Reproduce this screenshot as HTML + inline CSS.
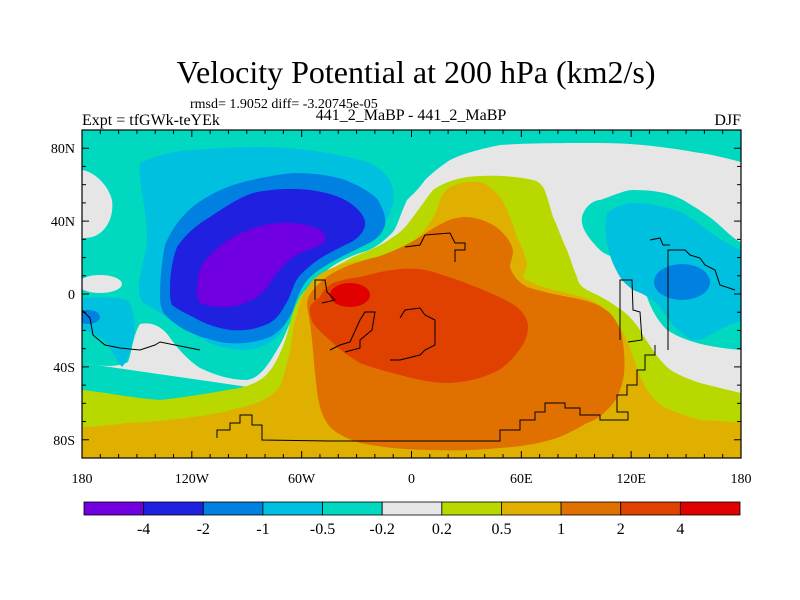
<!DOCTYPE html>
<html><head><meta charset="utf-8"><style>
body{margin:0;background:#fff;}
svg{display:block;font-family:"Liberation Serif",serif;}
</style></head><body>
<svg id="c" width="800" height="600" viewBox="0 0 800 600">
<text x="416" y="83" font-size="32" text-anchor="middle">Velocity Potential at 200 hPa (km2/s)</text>
<text x="190" y="108" font-size="14">rmsd= 1.9052 diff= -3.20745e-05</text>
<text x="82" y="125" font-size="16">Expt = tfGWk-teYEk</text>
<text x="411" y="120" font-size="16" text-anchor="middle">441_2_MaBP - 441_2_MaBP</text>
<text x="741" y="125" font-size="16" text-anchor="end">DJF</text>
<defs><clipPath id="pc"><rect x="82" y="130" width="659" height="328"/></clipPath></defs>
<g clip-path="url(#pc)">
<rect x="82" y="130" width="659" height="328" fill="#00d8c0"/>
<path fill="#e6e6e6" d="M741,458 L741,350 C720,348 690,345 667,330 C655,318 650,305 647,297 C640,280 635,268 627,263 C612,256 605,255 600,250 C590,240 580,228 582,217 C585,205 595,200 600,200 C615,195 625,190 633,190 C655,190 670,193 683,200 C700,210 710,217 717,223 C728,233 735,240 741,242 L741,162 C725,158 710,154 700,153 C660,146 630,143 600,143 C560,143 530,143 500,145 C475,150 460,155 450,160 C438,168 430,175 425,180 C418,190 412,195 407,200 C400,215 398,225 393,232 C380,245 372,250 360,253 C340,260 328,268 320,277 C310,287 305,295 300,303 C290,320 285,338 277,350 C268,365 260,378 247,380 C230,380 215,375 200,368 C185,358 175,345 168,335 C160,325 150,322 140,324 C133,335 132,352 128,362 C118,368 100,366 82,363 Z"/>
<path fill="#e6e6e6" d="M82,170 C95,172 108,185 112,200 C114,215 108,230 95,236 C90,238 85,238 82,238 Z"/>
<ellipse cx="100" cy="284" rx="22" ry="9" fill="#e6e6e6"/>
<path fill="#b8d800" d="M741,458 L741,393 C720,388 700,383 700,383 C685,378 672,372 667,367 C660,360 656,355 653,350 C648,343 644,337 640,330 C632,318 625,312 617,307 C605,298 595,294 587,290 C580,286 578,282 577,277 C572,265 570,258 567,250 C560,235 557,225 553,217 C548,200 546,192 543,187 C540,183 537,181 533,180 C510,175 485,175 467,177 C450,180 440,185 433,190 C425,200 420,208 413,217 C405,228 400,233 393,237 C380,247 365,252 353,257 C338,265 328,270 320,277 C310,285 303,292 300,297 C294,308 292,315 290,323 C287,335 284,345 280,353 C275,365 268,375 260,380 C250,386 238,389 227,390 C205,394 180,398 160,400 C130,398 105,392 82,390 L82,458 Z"/>
<path fill="#e0b000" d="M741,458 L741,423 C720,421 705,420 700,420 C685,416 670,410 663,407 C655,400 650,395 647,390 C640,378 637,368 633,357 C628,342 624,332 617,323 C610,313 603,307 597,303 C585,297 575,295 567,293 C555,290 540,287 533,283 C527,280 524,279 523,277 C524,272 527,268 527,263 C524,252 520,243 517,237 C512,222 506,205 500,197 C494,190 488,185 483,183 C470,180 460,183 450,187 C442,192 440,200 437,210 C433,220 420,240 400,250 C380,257 362,260 347,263 C330,268 320,273 313,280 C305,290 302,297 300,303 C296,315 295,322 293,330 C291,345 290,355 287,363 C284,375 282,385 277,390 C268,400 255,404 243,407 C225,412 210,415 193,417 C170,420 150,422 127,423 C110,425 95,427 82,427 L82,458 Z"/>
<path fill="#e07000" d="M443,223 C450,219 458,217 467,217 C480,218 492,223 500,230 C508,238 513,245 513,253 C512,260 510,263 510,267 C513,277 520,283 527,287 C545,293 565,296 583,300 C595,303 603,307 610,313 C618,322 622,332 623,343 C625,357 625,370 623,380 C620,393 615,403 607,410 C600,417 594,421 587,423 C575,430 562,437 550,440 C533,445 515,447 500,448 C478,450 455,451 433,450 C410,450 385,448 360,443 C345,438 333,432 327,423 C320,412 318,400 317,390 C315,375 314,362 313,350 C312,340 311,330 310,323 C309,315 307,308 307,303 C308,297 310,293 313,290 C320,282 326,277 333,273 C345,266 360,261 377,257 C392,252 407,245 420,237 C430,230 437,226 443,223 Z"/>
<path fill="#e04000" d="M320,297 C323,290 328,286 333,283 C342,280 350,278 360,277 C372,274 383,271 393,270 C405,268 420,268 433,272 C450,277 467,283 483,290 C498,296 510,302 517,307 C524,313 528,320 528,327 C528,337 523,346 517,353 C510,362 502,369 493,373 C480,379 465,382 450,383 C432,383 415,379 400,375 C386,371 372,368 360,363 C350,357 340,350 333,343 C325,336 318,330 313,323 C310,316 309,311 310,307 C312,303 316,300 320,297 Z"/>
<ellipse cx="350" cy="295" rx="20" ry="12" fill="#e00000"/>
<path fill="#00c0e0" d="M140,163 C160,154 180,150 193,150 C220,148 240,147 260,147 C285,147 305,149 327,153 C350,157 365,160 377,167 C388,175 392,182 393,190 C395,200 392,210 387,220 C380,230 372,237 360,243 C348,250 337,256 327,263 C315,271 307,280 300,290 C294,300 291,310 287,320 C284,328 281,333 277,337 C268,345 258,349 247,350 C235,350 222,348 210,343 C198,337 188,330 177,323 C165,316 155,309 143,303 C138,295 138,285 140,277 C142,265 146,252 147,240 C147,225 145,212 143,200 C141,188 139,175 140,163 Z"/>
<path fill="#00c0e0" d="M82,298 C100,297 118,297 127,300 C135,310 136,325 133,340 C130,352 127,362 122,367 C116,360 112,350 104,340 C96,334 88,331 82,330 Z"/>
<ellipse cx="88" cy="317" rx="12" ry="7" fill="#0080e0"/>
<path fill="#0080e0" d="M160,295 C160,278 162,260 165,245 C172,228 182,215 195,205 C210,194 225,187 240,183 C258,178 275,175 293,173 C312,173 330,175 345,180 C360,186 372,193 378,200 C384,210 386,218 385,225 C382,235 375,241 365,245 C352,252 340,257 330,263 C318,270 310,276 305,283 C299,292 296,301 293,310 C288,322 280,332 270,337 C255,343 240,344 225,343 C210,340 197,336 185,330 C175,324 167,318 163,312 C160,305 160,300 160,295 Z"/>
<path fill="#2020e0" d="M170,290 C170,275 172,260 177,247 C185,235 196,225 210,217 C225,207 238,198 253,193 C270,189 290,188 310,190 C325,192 340,196 350,203 C360,210 366,218 365,225 C363,235 355,241 345,245 C335,250 323,256 315,262 C305,270 298,276 295,283 C291,292 289,300 285,305 C280,315 274,322 265,325 C253,330 242,331 230,330 C217,328 205,324 195,318 C185,313 177,309 172,305 C170,300 170,295 170,290 Z"/>
<path fill="#7000e0" d="M197,290 C197,280 199,270 203,263 C212,252 222,244 233,237 C248,229 262,225 277,223 C293,222 308,224 320,230 C326,234 327,240 323,243 C316,248 308,250 300,253 C290,259 283,265 277,273 C270,283 265,292 257,297 C247,303 237,307 227,307 C215,307 206,306 200,303 C197,299 197,295 197,290 Z"/>
<path fill="#00c0e0" d="M607,213 C615,207 625,203 633,203 C650,203 668,207 683,213 C695,220 705,229 717,237 C727,243 735,248 741,250 L741,320 C738,322 736,323 733,323 C722,328 710,335 700,340 C690,341 683,335 677,330 C670,322 665,314 660,307 C652,298 643,294 633,290 C627,285 623,282 620,277 C613,265 609,255 607,243 C605,232 605,220 607,213 Z"/>
<ellipse cx="682" cy="282" rx="28" ry="18" fill="#0080e0"/>
<g fill="none" stroke="#000" stroke-width="1">
<path d="M217,438 L217,430 L230,430 L230,423 L240,423 L240,415 L252,415 L252,425 L262,425 L262,440 L330,441 L500,441 L500,430 L520,430 L520,420 L535,420 L535,412 L545,412 L545,403 L565,403 L565,408 L580,408 L580,415 L600,415 L600,420 L628,420 L628,412 L617,412 L617,395 L627,395 L627,385 L637,385 L637,370 L645,370 L645,355 L655,355 L655,345"/>
<path d="M405,247 L420,245 L425,235 L450,233 L455,243 L465,243 L465,250 L455,250 L455,262"/>
<path d="M400,318 L405,310 L420,308 L425,315 L435,320 L435,345 L425,350 L420,355 L400,360 L390,360"/>
<path d="M330,350 L340,345 L350,342 L360,320 L365,312 L375,312 L372,330 L360,340 L360,348 L345,352"/>
<path d="M315,300 L315,280 L325,280 L327,292 L335,300 L322,303"/>
<path d="M82,310 L90,318 L93,335 L105,345 L120,348 L140,350 L155,345 L160,342 L175,345 L200,350"/>
<path d="M620,340 L620,280 L632,280 L633,310 L640,312 L642,340 L628,342"/>
<path d="M668,350 L668,250 L685,250 L690,255 L700,258 L705,265 L715,270 L720,285 L735,290"/>
<path d="M650,240 L660,238 L663,245 L670,245"/>
</g>
</g>
<rect x="82" y="130" width="659" height="328" fill="none" stroke="#000" stroke-width="1.2"/>
<g id="axes"></g>
<g id="cbar"></g>
</svg>
<script>
const levels = ["-4","-2","-1","-0.5","-0.2","0.2","0.5","1","2","4"];
const colors = ["#7000e0","#2020e0","#0080e0","#00c0e0","#00d8c0","#e6e6e6","#b8d800","#e0b000","#e07000","#e04000","#e00000"];
const lonTicks = ["180","120W","60W","0","60E","120E","180"];
const lonVals = [-180,-120,-60,0,60,120,180];
const latTicks = ["80N","40N","0","40S","80S"];
const latVals = [80,40,0,-40,-80];
const NS="http://www.w3.org/2000/svg";
const X0=82,X1=741,Y0=130,Y1=458;
const xs=l=>X0+(l+180)/360*(X1-X0);
const ys=l=>Y0+(90-l)/180*(Y1-Y0);
function mk(t,a){const e=document.createElementNS(NS,t);for(const k in a)e.setAttribute(k,a[k]);return e;}
const ax=document.getElementById('axes');
for(let l=-180;l<=180;l+=10){const maj=lonVals.includes(l);const x=xs(l);
 const t1=mk('line',{x1:x,x2:x,y1:Y1,y2:Y1-(maj?7:4),stroke:'#000'});
 
 ax.appendChild(t1);
 const t2=mk('line',{x1:x,x2:x,y1:Y0,y2:Y0+(maj?7:4),stroke:'#000'});
 
 ax.appendChild(t2);}
for(let l=-90;l<=90;l+=10){const maj=latVals.includes(l);const y=ys(l);
 const t1=mk('line',{x1:X0,x2:X0+(maj?7:4),y1:y,y2:y,stroke:'#000'});
 
 ax.appendChild(t1);
 const t2=mk('line',{x1:X1,x2:X1-(maj?7:4),y1:y,y2:y,stroke:'#000'});
 
 ax.appendChild(t2);}
lonTicks.forEach((s,i)=>{const t=mk('text',{x:xs(lonVals[i]),y:483,'font-size':14,'text-anchor':'middle'});t.textContent=s;
 
 ax.appendChild(t);});
latTicks.forEach((s,i)=>{const t=mk('text',{x:75,y:ys(latVals[i])+5,'font-size':14,'text-anchor':'end'});t.textContent=s;
 
 ax.appendChild(t);});
const cb=document.getElementById('cbar');
const CX0=84,CX1=740,w=(CX1-CX0)/colors.length;
colors.forEach((c,i)=>{const r=mk('rect',{x:CX0+i*w,y:502,width:w,height:13,fill:c,stroke:'#000','stroke-width':0.8});
 
 cb.appendChild(r);});
levels.forEach((s,i)=>{const t=mk('text',{x:CX0+(i+1)*w,y:534,'font-size':16,'text-anchor':'middle'});t.textContent=s;
 
 cb.appendChild(t);});
</script>
</body></html>
